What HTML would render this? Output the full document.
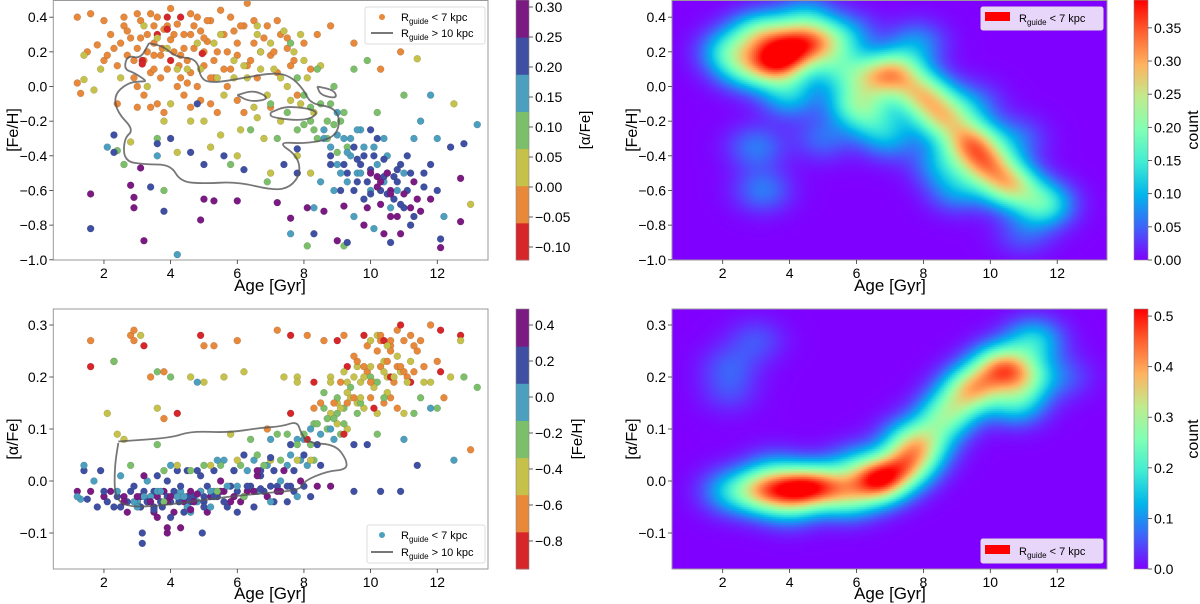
<!DOCTYPE html>
<html><head><meta charset="utf-8">
<style>
html,body{margin:0;padding:0;background:#fff;}
#wrap{position:relative;width:1200px;height:604px;overflow:hidden;font-family:"Liberation Sans",sans-serif;}
canvas{position:absolute;}
svg{position:absolute;left:0;top:0;}
</style></head>
<body>
<div id="wrap">
<canvas id="hmTop" width="435" height="260" style="left:672px;top:0px;width:435px;height:260px"></canvas>
<canvas id="hmBot" width="435" height="260" style="left:672px;top:309px;width:435px;height:260px"></canvas>
<svg id="fig" width="1200" height="604" viewBox="0 0 1200 604">
<defs>
<linearGradient id="rainbowGrad" x1="0" y1="1" x2="0" y2="0">
<stop offset="0" stop-color="#8000ff"/><stop offset="0.125" stop-color="#4062fa"/><stop offset="0.25" stop-color="#00b5eb"/><stop offset="0.375" stop-color="#40ecd4"/><stop offset="0.5" stop-color="#80ffb4"/><stop offset="0.625" stop-color="#c0eb8d"/><stop offset="0.75" stop-color="#ffb360"/><stop offset="0.875" stop-color="#ff6230"/><stop offset="1" stop-color="#ff0000"/>
</linearGradient>
</defs>
<g id="layer"></g>
<text x="270" y="291" font-size="17" text-anchor="middle">Age [Gyr]</text>
<text x="890" y="291" font-size="17" text-anchor="middle">Age [Gyr]</text>
<text x="270" y="599" font-size="17" text-anchor="middle">Age [Gyr]</text>
<text x="890" y="599" font-size="17" text-anchor="middle">Age [Gyr]</text>
<text transform="translate(18,130) rotate(-90)" font-size="16" text-anchor="middle">[Fe/H]</text>
<text transform="translate(637,130) rotate(-90)" font-size="16" text-anchor="middle">[Fe/H]</text>
<text transform="translate(18,439) rotate(-90)" font-size="16" text-anchor="middle">[α/Fe]</text>
<text transform="translate(637,439) rotate(-90)" font-size="16" text-anchor="middle">[α/Fe]</text>
<text transform="translate(590,130) rotate(-90)" font-size="15" text-anchor="middle">[α/Fe]</text>
<text transform="translate(582,439) rotate(-90)" font-size="15" text-anchor="middle">[Fe/H]</text>
<text transform="translate(1198,130) rotate(-90)" font-size="16" text-anchor="middle">count</text>
<text transform="translate(1198,439) rotate(-90)" font-size="16" text-anchor="middle">count</text>
<g>
<rect x="365" y="7" width="120" height="37" rx="2" fill="#fff" fill-opacity="0.85" stroke="#ddd"/>
<circle cx="382" cy="17" r="3" fill="#e8883a"/>
<text x="401" y="21" font-size="11">R<tspan font-size="8" dy="3">guide</tspan><tspan dy="-3"> &lt; 7 kpc</tspan></text>
<line x1="371" y1="33" x2="393" y2="33" stroke="#777" stroke-width="2"/>
<text x="401" y="37" font-size="11">R<tspan font-size="8" dy="3">guide</tspan><tspan dy="-3"> &gt; 10 kpc</tspan></text>
</g>
<g>
<rect x="367" y="525" width="118" height="38" rx="2" fill="#fff" fill-opacity="0.85" stroke="#ddd"/>
<circle cx="382" cy="535" r="3" fill="#4c9fbe"/>
<text x="401" y="539" font-size="11">R<tspan font-size="8" dy="3">guide</tspan><tspan dy="-3"> &lt; 7 kpc</tspan></text>
<line x1="371" y1="552" x2="393" y2="552" stroke="#777" stroke-width="2"/>
<text x="401" y="556" font-size="11">R<tspan font-size="8" dy="3">guide</tspan><tspan dy="-3"> &gt; 10 kpc</tspan></text>
</g>
<g>
<rect x="981" y="7" width="122" height="23" rx="2" fill="#e8d6fa" stroke="#ddd"/>
<rect x="985" y="12" width="25" height="9" fill="#ff0000"/>
<text x="1019" y="22" font-size="11">R<tspan font-size="8" dy="3">guide</tspan><tspan dy="-3"> &lt; 7 kpc</tspan></text>
</g>
<g>
<rect x="981" y="539" width="122" height="24" rx="2" fill="#e8d6fa" stroke="#ddd"/>
<rect x="985" y="545" width="25" height="9" fill="#ff0000"/>
<text x="1019" y="555" font-size="11">R<tspan font-size="8" dy="3">guide</tspan><tspan dy="-3"> &lt; 7 kpc</tspan></text>
</g>
</svg>
</div>
<script>
// ---------- data ----------
const ageTicks=[2,4,6,8,10,12];
const fehTicks=[0.4,0.2,0.0,-0.2,-0.4,-0.6,-0.8,-1.0];
const alphaTicks=[0.3,0.2,0.1,0.0,-0.1];
const alphaCbTicks=[0.30,0.25,0.20,0.15,0.10,0.05,0.00,-0.05,-0.10];
const fehCbTicks=[0.4,0.2,0.0,-0.2,-0.4,-0.6,-0.8];
const countTopTicks=[0.00,0.05,0.10,0.15,0.20,0.25,0.30,0.35];
const countBotTicks=[0.0,0.1,0.2,0.3,0.4,0.5];
const bandColors=["#d7262a","#e8883a","#c5c14a","#7cbf6a","#4c9fbe","#3f4fa3","#7b1a83"];
const alphaEdges=[-0.122,-0.06,0.0,0.063,0.125,0.187,0.25,0.312];
const fehEdges=[-0.956,-0.75,-0.544,-0.337,-0.131,0.075,0.282,0.489];
// stars: [age, [Fe/H], [alpha/Fe]]
const thinDiskStars=[[2.6,0.35,-0.03],[2.8,0.28,-0.02],[3.0,0.22,-0.04],[3.1,0.38,-0.03],[3.2,0.15,-0.02],[3.3,0.3,-0.04],[3.4,0.08,-0.03],[3.5,0.25,-0.02],[3.6,0.4,-0.03],[3.7,0.18,-0.04],[3.8,0.33,-0.02],[3.9,0.1,-0.03],[4.0,0.27,-0.04],[4.1,0.2,-0.02],[4.2,0.36,-0.03],[4.3,0.05,-0.02],[4.4,0.3,-0.04],[4.5,0.15,-0.03],[4.6,0.42,-0.02],[4.7,0.22,-0.03],[4.8,0.0,-0.04],[4.9,0.32,-0.02],[5.0,0.12,-0.03],[5.1,0.26,-0.01],[5.2,0.38,-0.03],[5.3,0.05,-0.02],[5.4,0.2,-0.03],[5.6,0.3,-0.02],[5.8,0.1,-0.01],[6.0,0.25,-0.02],[6.2,0.35,-0.03],[6.4,0.15,-0.01],[6.6,0.05,-0.02],[6.8,0.28,-0.02],[7.0,0.18,-0.01],[7.3,0.3,-0.02],[7.6,0.12,-0.01],[2.2,0.3,-0.02],[2.4,0.12,-0.03],[1.2,0.4,-0.02],[1.6,0.42,-0.02],[2.0,0.38,-0.03],[3.2,-0.05,-0.03],[3.6,-0.1,-0.02],[4.4,-0.05,-0.03],[3.0,0.0,-0.04],[4.0,0.45,-0.03],[5.5,0.44,-0.02],[6.3,0.48,-0.02],[8.8,0.35,-0.01],[8.0,0.25,-0.01],[9.5,0.25,-0.02],[10.9,0.2,-0.02],[10.3,0.1,-0.02],[2.9,0.05,-0.04],[3.4,-0.12,-0.03],[4.9,-0.08,-0.02],[5.7,0.0,-0.01],[6.0,-0.08,-0.01],[3.75,0.22,-0.05],[4.25,0.12,-0.04],[3.9,0.35,-0.04],[4.6,0.08,-0.04],[5.0,0.2,-0.04],[3.3,0.2,-0.04],[2.7,0.18,-0.04],[1.3,-0.04,-0.035],[1.5,0.2,-0.035],[2.0,0.15,-0.02],[3.5,0.1,-0.05],[4.2,0.0,-0.03],[5.2,-0.1,-0.02],[6.5,0.38,-0.02],[7.2,0.08,-0.01],[5.9,0.32,-0.03],[4.8,0.4,-0.025],[3.0,0.42,-0.03],[2.5,0.25,-0.05],[6.7,0.2,-0.015],[7.5,0.22,-0.01],[3.9,0.4,-0.1],[4.3,0.4,-0.09],[3.9,0.33,-0.09],[3.15,0.15,-0.1],[4.95,0.19,-0.1],[3.15,0.13,-0.12]];
const thinDiskStars2=[[2.3,0.22,-0.05],[2.5,0.05,0.01],[2.7,0.32,-0.06],[2.9,0.15,-0.01],[3.1,0.28,-0.05],[3.3,0.0,0.0],[3.5,0.35,-0.06],[3.7,0.05,-0.02],[3.9,0.22,0.0],[4.1,0.3,-0.06],[4.3,0.18,-0.01],[4.5,0.02,-0.05],[4.7,0.35,-0.04],[4.9,0.1,0.01],[5.1,0.38,-0.06],[5.3,0.15,-0.03],[5.5,0.3,0.0],[5.7,0.2,-0.05],[5.9,0.05,0.02],[6.1,0.35,-0.04],[6.3,0.12,-0.01],[6.5,0.25,-0.05],[6.7,0.1,0.01],[6.9,0.35,-0.03],[7.1,0.2,-0.04],[7.3,0.05,0.0],[7.5,0.28,-0.04],[7.7,0.15,-0.02],[2.1,0.18,-0.04],[1.8,0.24,-0.05],[1.2,0.02,-0.03],[1.7,-0.02,0.0],[2.4,-0.1,-0.02],[3.0,-0.12,-0.05],[3.8,-0.15,-0.04],[4.6,-0.12,-0.06],[5.4,-0.15,-0.02],[6.2,-0.15,-0.03],[7.0,-0.12,-0.04],[7.8,-0.05,-0.03],[4.0,0.15,-0.07],[4.4,0.22,-0.06],[3.6,0.3,-0.07],[5.0,0.28,-0.05],[5.8,0.4,-0.04],[3.4,0.42,-0.04],[4.2,0.1,0.02],[6.0,0.18,-0.06],[2.6,0.4,-0.04],[5.6,0.1,-0.04],[3.2,0.35,0.01],[4.8,0.25,0.02],[6.6,0.35,0.01],[7.2,0.38,-0.02],[8.2,0.1,-0.03],[8.4,0.3,-0.01],[7.9,0.3,0.0],[3.5,0.18,-0.055],[4.6,0.3,-0.055],[5.2,0.05,-0.05]];
const transitionStars=[[4.0,-0.1,0.03],[4.5,0.1,0.02],[5.0,-0.2,0.03],[5.3,0.25,0.02],[5.6,-0.05,0.04],[5.9,0.15,0.02],[6.1,-0.25,0.03],[6.3,0.05,0.02],[6.5,-0.12,0.04],[6.7,0.2,0.02],[6.9,-0.05,0.03],[7.1,0.1,0.02],[7.3,-0.2,0.04],[7.5,0.0,0.03],[7.7,0.2,0.02],[7.9,-0.1,0.04],[8.1,0.05,0.03],[8.3,-0.15,0.04],[8.5,0.12,0.03],[5.2,-0.35,0.03],[6.0,-0.4,0.04],[7.0,-0.5,0.04],[3.8,-0.2,0.02],[2.8,-0.32,0.03],[1.9,0.1,0.02],[1.4,0.18,0.02],[1.4,0.04,0.03],[6.6,0.3,0.02],[7.4,0.32,0.02],[11.4,0.16,0.03],[12.5,-0.1,0.04],[4.2,-0.38,0.03],[5.5,-0.28,0.03],[6.8,-0.3,0.03],[7.8,-0.4,0.04],[8.2,-0.5,0.04],[6.2,0.12,0.05],[7.0,0.25,0.045],[8.0,0.15,0.05],[5.4,0.05,0.04],[6.6,-0.18,0.05],[7.6,-0.08,0.05],[4.6,-0.2,0.02],[3.6,0.28,0.01]];
const greenStars=[[7.0,-0.1,0.08],[7.5,-0.15,0.09],[8.0,-0.05,0.08],[8.2,-0.2,0.07],[8.5,-0.1,0.09],[8.7,-0.3,0.1],[8.9,0.0,0.08],[9.1,-0.2,0.09],[8.4,0.1,0.07],[7.8,0.05,0.08],[9.3,-0.35,0.1],[9.5,0.1,0.07],[6.4,-0.25,0.08],[5.8,-0.45,0.09],[6.9,-0.55,0.1],[9.2,-0.92,0.09],[8.1,-0.92,0.08],[10.2,-0.15,0.09],[11.0,-0.05,0.08],[9.9,0.15,0.07],[3.6,-0.3,0.07],[2.6,-0.45,0.08],[2.4,-0.37,0.09],[7.6,0.25,0.07],[8.8,-0.1,0.1],[8.3,-0.25,0.11],[9.0,-0.38,0.11],[7.2,-0.3,0.09]];
const tealStars=[[8.6,-0.25,0.14],[8.8,-0.35,0.13],[9.0,-0.45,0.15],[9.2,-0.3,0.14],[9.4,-0.4,0.16],[9.6,-0.5,0.15],[9.8,-0.35,0.14],[10.0,-0.6,0.16],[10.2,-0.45,0.13],[10.4,-0.55,0.15],[10.6,-0.7,0.16],[10.8,-0.6,0.14],[11.0,-0.5,0.13],[9.5,-0.75,0.16],[10.1,-0.82,0.14],[11.3,-0.3,0.13],[11.8,-0.05,0.14],[12.2,-0.75,0.16],[13.0,-0.68,0.06],[13.2,-0.22,0.18],[7.6,-0.85,0.13],[3.8,-0.6,0.12],[2.1,-0.35,0.13],[3.6,-0.4,0.14],[4.2,-0.97,0.13],[8.3,-0.7,0.14],[9.0,-0.15,0.13],[8.5,-0.55,0.15],[12.0,-0.3,0.14],[11.5,-0.2,0.16],[9.7,-0.25,0.15],[10.5,-0.4,0.17],[9.3,-0.55,0.15],[8.9,-0.22,0.12]];
const blueStars=[[9.3,-0.5,0.19],[9.5,-0.35,0.2],[9.7,-0.45,0.19],[9.9,-0.55,0.21],[10.1,-0.4,0.19],[10.3,-0.6,0.22],[10.5,-0.5,0.2],[10.7,-0.65,0.19],[10.9,-0.45,0.21],[11.1,-0.6,0.2],[10.2,-0.3,0.19],[9.8,-0.65,0.22],[11.3,-0.75,0.21],[10.0,-0.25,0.2],[9.1,-0.6,0.19],[8.8,-0.45,0.2],[11.6,-0.5,0.19],[12.4,-0.35,0.2],[12.1,-0.88,0.21],[8.3,-0.85,0.19],[9.3,-0.9,0.22],[10.6,-0.9,0.2],[11.2,-0.8,0.19],[12.8,-0.33,0.2],[1.6,-0.82,0.22],[2.3,-0.38,0.23],[3.4,-0.58,0.2],[3.6,-0.33,0.21],[4.6,-0.38,0.2],[5.0,-0.45,0.19],[5.6,-0.4,0.2],[6.2,-0.48,0.21],[7.4,-0.45,0.2],[7.8,-0.5,0.2],[4.0,-0.3,0.2],[4.8,-0.1,0.19],[2.3,-0.28,0.23],[3.8,-0.72,0.21],[7.8,-0.36,0.19],[10.4,-0.52,0.23],[9.6,-0.42,0.22],[10.8,-0.55,0.22],[11.0,-0.7,0.21]];
const thickDiskStars=[[8.6,-0.3,0.17],[8.8,-0.4,0.19],[9.0,-0.28,0.16],[9.2,-0.45,0.21],[9.4,-0.3,0.18],[9.6,-0.55,0.23],[9.8,-0.4,0.2],[10.0,-0.48,0.22],[10.2,-0.58,0.25],[10.4,-0.42,0.21],[10.6,-0.6,0.26],[10.8,-0.48,0.24],[11.0,-0.62,0.27],[11.2,-0.5,0.23],[11.4,-0.65,0.25],[11.6,-0.58,0.22],[9.5,-0.6,0.24],[9.9,-0.7,0.26],[10.3,-0.68,0.27],[10.7,-0.52,0.2],[11.1,-0.4,0.19],[9.3,-0.38,0.17],[10.1,-0.35,0.18],[10.5,-0.62,0.23],[10.9,-0.68,0.22],[9.7,-0.5,0.16],[10.0,-0.62,0.19],[10.6,-0.75,0.25],[11.3,-0.55,0.26],[12.0,-0.6,0.23],[9.1,-0.5,0.14],[8.9,-0.6,0.15],[10.4,-0.3,0.16],[11.8,-0.45,0.19],[9.6,-0.25,0.13],[8.7,-0.2,0.12],[8.4,-0.3,0.11],[8.2,-0.12,0.1],[8.0,-0.22,0.09],[7.8,-0.25,0.07],[9.2,-0.15,0.11],[10.2,-0.52,0.28]];
const purpleStars=[[10.0,-0.5,0.27],[10.3,-0.55,0.28],[10.6,-0.62,0.27],[10.8,-0.75,0.29],[11.2,-0.7,0.28],[11.5,-0.72,0.27],[11.8,-0.65,0.3],[9.8,-0.8,0.28],[10.4,-0.85,0.27],[12.7,-0.78,0.28],[12.1,-0.93,0.29],[9.2,-0.69,0.28],[8.6,-0.72,0.27],[1.6,-0.62,0.27],[2.8,-0.57,0.28],[2.9,-0.64,0.29],[2.9,-0.7,0.27],[3.2,-0.89,0.26],[3.1,-0.47,0.28],[5.0,-0.65,0.26],[4.9,-0.77,0.28],[5.3,-0.66,0.26],[6.0,-0.66,0.27],[7.2,-0.67,0.29],[7.6,-0.76,0.28],[9.0,-0.89,0.27],[8.1,-0.7,0.28],[12.7,-0.53,0.27],[10.9,-0.85,0.3],[10.5,-0.5,0.26]];
const contourFehOuter=[[3.35,0.25],[3.8,0.23],[4.15,0.17],[4.8,0.16],[4.9,0.04],[5.3,0.02],[6.2,0.05],[7.1,0.08],[7.6,0.06],[8.0,-0.02],[8.2,-0.1],[8.9,-0.12],[9.1,-0.2],[8.9,-0.3],[8.0,-0.33],[7.2,-0.32],[7.8,-0.4],[7.9,-0.5],[7.6,-0.58],[7.1,-0.6],[6.0,-0.55],[5.0,-0.56],[4.3,-0.55],[4.0,-0.45],[3.2,-0.45],[2.6,-0.43],[2.6,-0.3],[2.9,-0.25],[2.4,-0.15],[2.3,-0.05],[2.7,0.02],[3.1,0.03],[3.3,0.03],[2.9,0.08],[2.6,0.1],[2.7,0.18],[3.1,0.16],[3.35,0.25]];
const contourFehInnerA=[[6.0,-0.05],[6.5,-0.02],[7.0,-0.07],[6.4,-0.09],[6.0,-0.05]];
const contourFehInnerB=[[7.0,-0.15],[7.5,-0.11],[8.5,-0.14],[8.1,-0.2],[7.0,-0.18],[7.0,-0.15]];
const contourFehInnerC=[[8.4,0.0],[8.9,-0.02],[9.0,-0.07],[8.5,-0.05],[8.4,0.0]];
const contourAlpha=[[2.43,0.076],[4.03,0.083],[4.6,0.096],[5.75,0.093],[6.65,0.102],[7.34,0.105],[7.8,0.115],[7.91,0.092],[8.14,0.073],[8.94,0.07],[9.28,0.041],[9.28,0.022],[8.7,0.019],[8.0,0.0],[7.9,-0.017],[6.9,-0.023],[5.75,-0.03],[4.6,-0.04],[3.46,-0.049],[2.66,-0.049],[2.32,-0.03],[2.32,0.028],[2.43,0.073]];
// heatmap kernels [age, value, amplitude]
const blobsFeh=[[3.8,0.15,0.22],[4.3,0.25,0.17],[5.0,0.25,0.15],[2.2,0.2,0.12],[3.0,0.3,0.12],[3.3,0.12,0.13],[7.2,0.08,0.2],[8.0,-0.05,0.21],[8.6,-0.18,0.2],[9.4,-0.32,0.24],[9.9,-0.45,0.22],[10.6,-0.57,0.22],[11.6,-0.68,0.15],[6.0,-0.1,0.15],[6.5,0.05,0.14],[5.5,0.1,0.1],[4.0,-0.05,0.1],[3.0,-0.35,0.06],[3.2,-0.6,0.06],[7.0,-0.3,0.07],[8.5,-0.45,0.07],[7.8,0.25,0.07],[9.5,-0.1,0.05],[10.8,-0.3,0.05],[4.5,0.4,0.08],[3.5,0.3,0.08],[2.6,0.1,0.08],[5.8,0.3,0.06],[6.5,-0.2,0.08],[9.0,-0.6,0.07],[11.0,-0.85,0.04],[5.0,-0.3,0.05]];
const blobsAlpha=[[3.2,-0.02,0.28],[4.2,-0.015,0.32],[5.0,-0.01,0.27],[6.7,0.0,0.4],[7.5,0.03,0.27],[8.0,0.07,0.2],[8.6,0.12,0.18],[9.5,0.18,0.28],[10.3,0.22,0.3],[11.3,0.27,0.15],[10.8,0.15,0.15],[2.2,-0.02,0.12],[5.8,-0.03,0.18],[11.0,0.2,0.2],[3.0,0.27,0.05],[2.2,0.22,0.05],[2.2,0.17,0.04],[9.0,0.15,0.12],[12.2,0.2,0.05],[7.5,0.08,0.1],[6.0,0.03,0.1],[3.5,0.02,0.07],[4.0,-0.05,0.08]];

// ---------- scales ----------
const xL=a=>37.3+33.33*a, xR=a=>655.8+33.45*a;
const yFeh=f=>86.5-173.3*f;
const yAl=v=>481-520*v;
const NS="http://www.w3.org/2000/svg";
const layer=document.getElementById('layer');
function mk(tag,attrs,parent){const e=document.createElementNS(NS,tag);for(const k in attrs)e.setAttribute(k,attrs[k]);(parent||layer).appendChild(e);return e;}
function band(v,edges){for(let i=0;i<7;i++){if(v<edges[i+1])return bandColors[i];}return bandColors[6];}

function axes(x0,x1,y0,y1,xs,ys,xt,yt,yfmt,name){
  const g=mk('g',{});
  
  
  xt.forEach(t=>{const x=xs(t);
    const l=mk('line',{x1:x,x2:x,y1:y1,y2:y1+4,stroke:'#333','stroke-width':0.8},g);
    
    
    const tx=mk('text',{x:x,y:y1+18,'font-size':14,'text-anchor':'middle'},g);tx.textContent=t;
    
    });
  yt.forEach(t=>{const y=ys(t);
    const l=mk('line',{x1:x0-4,x2:x0,y1:y,y2:y,stroke:'#333','stroke-width':0.8},g);
    
    
    const tx=mk('text',{x:x0-6,y:y+5,'font-size':14,'text-anchor':'end'},g);tx.textContent=yfmt(t);
    
    });
  return g;
}
const fmtM=s=>s.replace('-','\u2212');
const f1=t=>fmtM(t.toFixed(1));

const allStars=[thinDiskStars,thinDiskStars2,transitionStars,greenStars,tealStars,blueStars,thickDiskStars,purpleStars];
const gTL=mk('g',{});


const gBL=mk('g',{});


allStars.forEach(grp=>grp.forEach(s=>{
  const c1=mk('circle',{cx:xL(s[0]),cy:yFeh(s[1]),r:3.5,fill:band(s[2],alphaEdges),stroke:'rgba(0,0,0,0.25)','stroke-width':0.4},gTL);
  
  
  const c2=mk('circle',{cx:xL(s[0]),cy:yAl(s[2]),r:3.5,fill:band(s[1],fehEdges),stroke:'rgba(0,0,0,0.25)','stroke-width':0.4},gBL);
  
  
}));
function pathD(pts,xs,ys){let d='';for(let i=0;i<pts.length;i++){const x=xs(pts[i][0]),y=ys(pts[i][1]);
  if(i===0)d='M'+x+','+y;else{const p=pts[i-1];const mx=(xs(p[0])+x)/2,my=(ys(p[1])+y)/2;d+=' Q'+xs(p[0])+','+ys(p[1])+' '+mx+','+my;}}
  const l=pts[pts.length-1];return d+' L'+xs(l[0])+','+ys(l[1]);}
[contourFehOuter,contourFehInnerA,contourFehInnerB,contourFehInnerC].forEach(c=>{
  const p=mk('path',{d:pathD(c,xL,yFeh),fill:'none',stroke:'#555','stroke-opacity':0.8,'stroke-width':1.8},gTL);
  
  
});
{const p=mk('path',{d:pathD(contourAlpha,xL,yAl),fill:'none',stroke:'#555','stroke-opacity':0.8,'stroke-width':1.8},gBL);
 
 }

function frame(x0,y0,x1,y1,name){const r=mk('rect',{x:x0,y:y0,width:x1-x0,height:y1-y0,fill:'none',stroke:'#999','stroke-width':1});
  
  }
frame(53.3,0.5,488,260,'frame-top-left');
frame(53.3,309,488,569,'frame-bottom-left');
frame(672,0.5,1107,260,'frame-top-right');
frame(672,309,1107,569,'frame-bottom-right');
axes(53.3,488,0,260,xL,yFeh,ageTicks,fehTicks,f1,'top-left');
axes(53.3,488,309,569,xL,yAl,ageTicks,alphaTicks,f1,'bottom-left');
axes(672,1107,0,260,xR,yFeh,ageTicks,fehTicks,f1,'top-right');
axes(672,1107,309,569,xR,yAl,ageTicks,alphaTicks,f1,'bottom-right');

function discreteCb(x,y0,y1,edges,ticks,ys,fmt,name){
  const g=mk('g',{});
  
  
  const h=(y1-y0)/7;
  for(let i=0;i<7;i++){const r=mk('rect',{x:x,y:y1-(i+1)*h,width:13,height:h+0.5,fill:bandColors[i]},g);
    
    }
  mk('rect',{x:x,y:y0,width:13,height:y1-y0,fill:'none',stroke:'#888','stroke-width':0.6},g);
  ticks.forEach(t=>{const y=ys(t);mk('line',{x1:x+13,x2:x+17,y1:y,y2:y,stroke:'#333','stroke-width':0.8},g);
    const tx=mk('text',{x:x+19,y:y+5,'font-size':14},g);tx.textContent=fmt(t);
    
    });
}
discreteCb(516,0,260,alphaEdges,alphaCbTicks,v=>7+(0.30-v)*600,t=>fmtM(t.toFixed(2)),'colorbar-alpha');
discreteCb(516,309,569,fehEdges,fehCbTicks,v=>325+(0.4-v)*180,t=>fmtM(t.toFixed(1)),'colorbar-feh');
function contCb(x,y0,y1,ticks,ys,fmt,name){
  const g=mk('g',{});
  
  
  mk('rect',{x:x,y:y0,width:14,height:y1-y0,fill:'url(#rainbowGrad)',stroke:'#888','stroke-width':0.6},g);
  ticks.forEach(t=>{const y=ys(t);mk('line',{x1:x+14,x2:x+18,y1:y,y2:y,stroke:'#333','stroke-width':0.8},g);
    const tx=mk('text',{x:x+20,y:y+5,'font-size':14},g);tx.textContent=fmt(t);
    
    });
}
const maxTop=0.392,maxBot=0.514;
contCb(1134,0,260,countTopTicks,v=>260-v/maxTop*260,t=>t.toFixed(2),'colorbar-count-top');
contCb(1134,309,569,countBotTicks,v=>569-v/maxBot*260,t=>t.toFixed(1),'colorbar-count-bottom');

function rainbow(x){x=Math.max(0,Math.min(1,x));return [Math.min(1,Math.abs(2*x-0.5))*255,Math.sin(Math.PI*x)*255,Math.cos(Math.PI*x/2)*255];}
function heat(id,blobs,yInv,y0,sa,sv,vmax){
  const cv=document.getElementById(id),ctx=cv.getContext('2d');const W=cv.width,H=cv.height;
  const img=ctx.createImageData(W,H);
  for(let py=0;py<H;py+=2)for(let px=0;px<W;px+=2){
    const a=(672+px+1-655.8)/33.45,v=yInv(y0+py+1);let s=0;
    for(const b of blobs){const da=(a-b[0])/sa,dv=(v-b[1])/sv;s+=b[2]*Math.exp(-0.5*(da*da+dv*dv));}
    const c=rainbow(s/vmax);
    for(let dy=0;dy<2;dy++)for(let dx=0;dx<2;dx++){const i=((py+dy)*W+px+dx)*4;if(py+dy<H&&px+dx<W){img.data[i]=c[0];img.data[i+1]=c[1];img.data[i+2]=c[2];img.data[i+3]=255;}}
  }
  ctx.putImageData(img,0,0);
}
heat('hmTop',blobsFeh,y=>(86.5-y)/173.3,0,0.6,0.09,maxTop);
heat('hmBot',blobsAlpha,y=>(481-y)/520,309,0.6,0.03,maxBot);
</script>
</body></html>
